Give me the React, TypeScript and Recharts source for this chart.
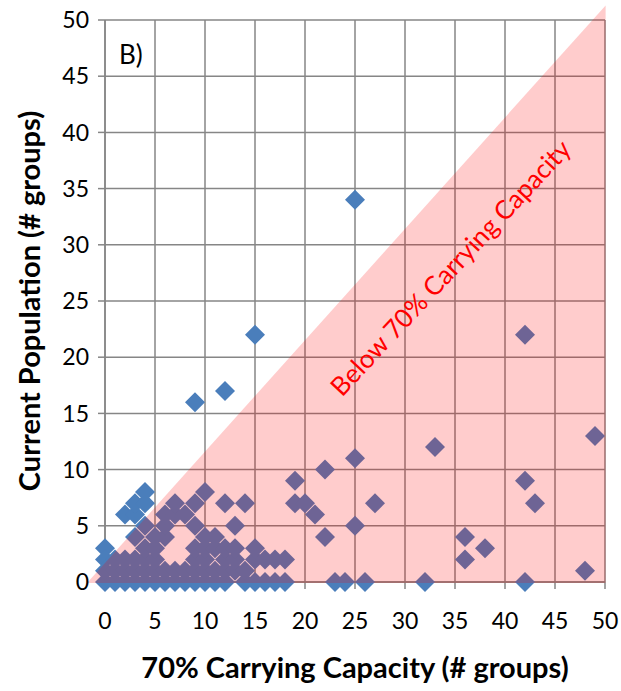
import React from 'react';
import {
  ScatterChart,
  Scatter,
  XAxis,
  YAxis,
  CartesianGrid,
  ReferenceArea,
  ReferenceDot,
  Label,
} from 'recharts';

// 70% carrying capacity (# groups)
const capacity = [
  // above the line
  0, 0, 2, 3, 3, 4, 4, 9, 12, 15, 25,
  // y = 0
  0, 1, 2, 3, 4, 5, 6, 7, 8, 9, 10, 11, 12, 14, 15, 16, 17, 18, 23, 24, 26, 32, 42,
  // y = 1
  0, 1, 2, 3, 4, 5, 6, 7, 8, 9, 10, 11, 12, 13, 14, 48,
  // y = 2
  1, 2, 3, 4, 5, 9, 10, 12, 13, 15, 16, 17, 18, 36,
  // y = 3
  4, 5, 9, 10, 11, 12, 13, 15, 38,
  // y = 4
  3, 5, 6, 10, 11, 22, 36,
  // y = 5
  4, 6, 9, 13, 25,
  // y = 6
  6, 7, 8, 21,
  // y = 7
  7, 9, 12, 14, 19, 20, 27, 43,
  // higher
  10, 19, 42, 22, 25, 33, 49, 42,
];

// current population (# groups)
const population = [
  3, 2, 6, 6, 7, 7, 8, 16, 17, 22, 34,
  0, 0, 0, 0, 0, 0, 0, 0, 0, 0, 0, 0, 0, 0, 0, 0, 0, 0, 0, 0, 0, 0, 0,
  1, 1, 1, 1, 1, 1, 1, 1, 1, 1, 1, 1, 1, 1, 1, 1,
  2, 2, 2, 2, 2, 2, 2, 2, 2, 2, 2, 2, 2, 2,
  3, 3, 3, 3, 3, 3, 3, 3, 3,
  4, 4, 4, 4, 4, 4, 4,
  5, 5, 5, 5, 5,
  6, 6, 6, 6,
  7, 7, 7, 7, 7, 7, 7, 7,
  8, 9, 9, 10, 11, 12, 13, 22,
];

const axisTicks = [0, 5, 10, 15, 20, 25, 30, 35, 40, 45, 50];

// triangle "Below 70% Carrying Capacity" corners (data units)
const triX = [-1.8, 50.06];
const triY = [-0.1, 51.3];

const points = capacity.map((x, i) => ({ x, y: population[i] }));

const FONT = 'Lato, "Open Sans", sans-serif';
const GRID = '#868686';

const Diamond = (p: any) => {
  const { cx, cy } = p;
  if (cx == null || cy == null) return null;
  const r = 10;
  return (
    <polygon
      points={`${cx},${cy - r} ${cx + r},${cy} ${cx},${cy + r} ${cx - r},${cy}`}
      fill="#4A7EBB"
    />
  );
};

const Triangle = (p: any) => {
  const { x, y, width, height } = p;
  return (
    <polygon
      points={`${x},${y + height} ${x + width},${y + height} ${x + width},${y}`}
      fill="#FF0000"
      fillOpacity={0.2}
    />
  );
};

const BelowText = (p: any) => (
  <text
    x={p.cx}
    y={p.cy}
    fill="#FF0000"
    fontFamily={FONT}
    fontSize={26}
    textAnchor="middle"
    dominantBaseline="central"
    transform={`rotate(-47 ${p.cx} ${p.cy})`}
  >
    Below 70% Carrying Capacity
  </text>
);

const PanelText = (p: any) => (
  <text
    x={p.cx}
    y={p.cy}
    fill="#000"
    fontFamily={FONT}
    fontSize={26}
    textAnchor="start"
    dominantBaseline="central"
  >
    B)
  </text>
);

export default function App() {
  return (
    <div style={{ position: 'absolute', left: 0, top: 0 }}>
      <ScatterChart
        width={621}
        height={691}
        margin={{ top: 20, right: 16, bottom: 0, left: 0 }}
      >
        <CartesianGrid stroke={GRID} strokeWidth={1.5} />
        <XAxis
          type="number"
          dataKey="x"
          domain={[0, 50]}
          ticks={axisTicks}
          interval={0}
          height={109}
          stroke={GRID}
          strokeWidth={1.5}
          tickSize={7}
          tickMargin={24}
          tick={{ fill: '#000', fontSize: 23, fontFamily: FONT }}
        >
          <Label
            value="70% Carrying Capacity (# groups)"
            position="center"
            dy={31}
            style={{ fontWeight: 700, fontSize: 29, fontFamily: FONT, fill: '#000' }}
          />
        </XAxis>
        <YAxis
          type="number"
          dataKey="y"
          domain={[0, 50]}
          ticks={axisTicks}
          interval={0}
          width={105}
          stroke={GRID}
          strokeWidth={1.5}
          tickSize={7}
          tickMargin={9}
          tick={{ fill: '#000', fontSize: 23, fontFamily: FONT }}
        >
          <Label
            value="Current Population (# groups)"
            position="center"
            angle={-90}
            dx={-23}
            style={{ fontWeight: 700, fontSize: 29, fontFamily: FONT, fill: '#000' }}
          />
        </YAxis>
        <Scatter data={points} shape={Diamond} isAnimationActive={false} />
        <ReferenceArea
          x1={triX[0]}
          x2={triX[1]}
          y1={triY[0]}
          y2={triY[1]}
          ifOverflow="visible"
          shape={Triangle}
          zIndex={700}
        />
        <ReferenceDot x={34.5} y={28} ifOverflow="visible" shape={BelowText} zIndex={800} />
        <ReferenceDot x={1.4} y={47} ifOverflow="visible" shape={PanelText} zIndex={800} />
      </ScatterChart>
    </div>
  );
}
